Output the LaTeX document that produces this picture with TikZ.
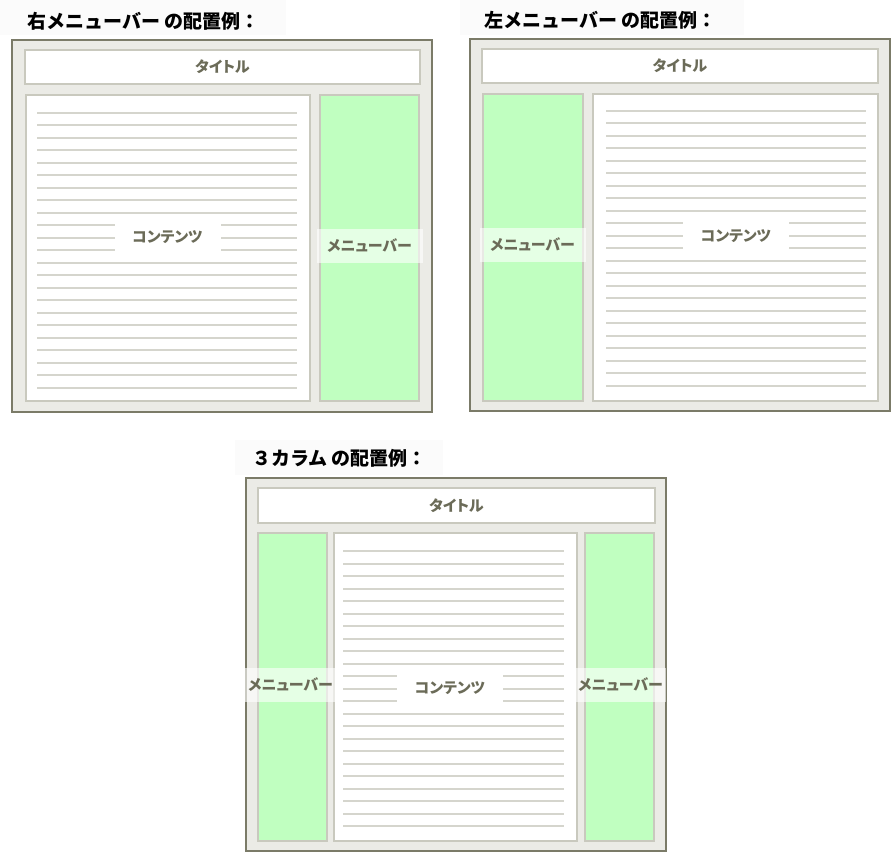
\documentclass[tikz,border=0pt]{standalone}
\usepackage{fontspec}
\newfontfamily\jp[RawFeature=+palt]{Noto Sans CJK JP}
\newfontfamily\jph{Noto Sans CJK JP}

\definecolor{headbg}{RGB}{251,251,251}
\definecolor{frmfill}{RGB}{235,235,230}
\definecolor{frmline}{RGB}{123,123,104}
\definecolor{boxline}{RGB}{201,201,190}
\definecolor{menugreen}{RGB}{192,255,192}
\definecolor{ruleline}{RGB}{213,213,205}
\definecolor{lbltext}{RGB}{107,107,88}

\begin{document}
\begin{tikzpicture}[
  x=1pt, y=-1pt,
  hbg/.style={fill=headbg},
  head/.style={anchor=west, inner sep=0, font=\jph\bfseries\fontsize{19}{19}\selectfont},
  frm/.style={fill=frmfill, draw=frmline, line width=2},
  box/.style={fill=white, draw=boxline, line width=2},
  menu/.style={fill=menugreen, draw=boxline, line width=2},
  rule/.style={draw=ruleline, line width=2},
  lbl/.style={text=lbltext, font=\jp\bfseries\fontsize{15}{15}\selectfont},
  cgap/.style={lbl, fill=white, minimum width=106, minimum height=36},
  mgap/.style={lbl, fill=white, fill opacity=0.6, text opacity=1, minimum width=106, minimum height=34},
]
\useasboundingbox (0,0) rectangle (891,852);

% right menu bar
\path [hbg] (0,0) rectangle (286,35);
\node [head] (h1) at (27,21) {右メニューバー の配置例：};
\draw [frm] (12,39.5) rectangle (432,411.5);
\draw [box] (25,49.5) rectangle (420,83.5);
\node [lbl] (t1) at (222.5,66.5) {タイトル};
\draw [box] (26,94.5) rectangle (309.5,401);
\foreach \k in {0,...,22}
  \draw [rule] (37,{112.5+12.5*\k}) -- (297,{112.5+12.5*\k});
\node [cgap] (c1) at (167.5,237.5) {コンテンツ};
\draw [menu] (319.5,94.5) rectangle (418.5,401);
\node [mgap] (m1) at (369.5,245.5) {メニューバー};

% left menu bar
\path [hbg] (460,0) rectangle (744,35);
\node [head] (h2) at (484,20) {左メニューバー の配置例：};
\draw [frm] (470,39) rectangle (890,411);
\draw [box] (482,48.5) rectangle (878,83);
\node [lbl] (t2) at (680,66) {タイトル};
\draw [box] (593,93.5) rectangle (878,401);
\foreach \k in {0,...,22}
  \draw [rule] (606,{110.7+12.5*\k}) -- (866,{110.7+12.5*\k});
\node [cgap] (c2) at (736,236) {コンテンツ};
\draw [menu] (482.5,93.5) rectangle (583,401);
\node [mgap] (m2) at (532.5,244.5) {メニューバー};

% 3 columns
\path [hbg] (235,440) rectangle (443,475);
\node [head] (h3) at (252,458) {３カラム の配置例：};
\draw [frm] (246,478) rectangle (666,851);
\draw [box] (258,488) rectangle (655,523);
\node [lbl] (t3) at (456.5,505.5) {タイトル};
\draw [box] (334,533) rectangle (577,841);
\foreach \k in {0,...,22}
  \draw [rule] (343,{551+12.5*\k}) -- (564,{551+12.5*\k});
\node [cgap] (c3) at (450,688.5) {コンテンツ};
\draw [menu] (258,533) rectangle (327,841);
\draw [menu] (585,533) rectangle (654,841);
\node [mgap, minimum width=91] (m3) at (290.5,684.5) {メニューバー};
\node [mgap, minimum width=91] (m4) at (620.5,684.5) {メニューバー};

\end{tikzpicture}
\end{document}
